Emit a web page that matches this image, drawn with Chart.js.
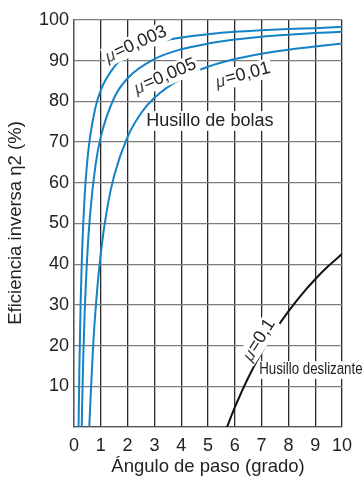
<!DOCTYPE html>
<html lang="es">
<head>
    <meta charset="UTF-8">
    <title>Eficiencia inversa</title>
    <script src="https://cdn.jsdelivr.net/npm/chart.js"></script>
    <style>
        body { margin: 0; background: #fff; }
        .wrap { width: 364px; height: 484px; position: relative; }
    </style>
</head>
<body>
    <div class="wrap">
        <canvas id="chart" width="364" height="484"></canvas>
    </div>
    <script>
        // angulo de paso (grado) y eficiencia (%)
        const ang003 = [0.17, 0.2, 0.25, 0.3, 0.4, 0.5, 0.6, 0.8, 1, 1.5, 2, 3, 4, 5, 6, 7, 8, 9, 10];
        const eff003 = [0, 14.1, 31.2, 42.7, 57.0, 65.6, 71.3, 78.5, 82.8, 88.5, 91.4, 94.3, 95.7, 96.5, 97.1, 97.5, 97.8, 98.0, 98.3];

        const ang005 = [0.29, 0.3, 0.35, 0.4, 0.5, 0.6, 0.8, 1, 1.5, 2, 3, 4, 5, 6, 7, 8, 9, 10];
        const eff005 = [0, 4.5, 18.2, 28.4, 42.7, 52.2, 64.2, 71.3, 80.9, 85.7, 90.4, 92.8, 94.2, 95.2, 95.9, 96.4, 96.8, 97.1];

        const ang01 = [0.57, 0.6, 0.7, 0.8, 1, 1.25, 1.5, 2, 2.5, 3, 4, 5, 6, 7, 8, 9, 10];
        const eff01 = [0, 4.5, 18.2, 28.4, 42.7, 54.2, 61.8, 71.3, 77.1, 80.9, 85.6, 88.5, 90.4, 91.7, 92.7, 93.5, 94.2];

        const ang1 = [5.71, 6, 6.5, 7, 7.5, 8, 8.5, 9, 9.5, 10];
        const eff1 = [0, 4.8, 12.1, 18.3, 23.7, 28.4, 32.6, 36.3, 39.6, 42.5];

        const xTicks = [0, 1, 2, 3, 4, 5, 6, 7, 8, 9, 10];
        const yTicks = [10, 20, 30, 40, 50, 60, 70, 80, 90, 100];

        const FONT = 'Liberation Sans, Arial, sans-serif';
        const BLUE = '#1482c6';
        const VGRID = '#2a2a2a';
        const HGRID = '#7c7c7c';
        const TEXT = '#222';

        function pts(xs, ys) {
            return xs.map((x, i) => ({ x: x, y: ys[i] }));
        }

        function line(xs, ys, color) {
            return {
                data: pts(xs, ys),
                borderColor: color,
                borderWidth: 2,
                pointRadius: 0,
                cubicInterpolationMode: 'monotone',
                fill: false
            };
        }

        // rotulos sobre las curvas (posicion en unidades de los ejes)
        const labels = [
            { mu: true, text: '=0,003', x: 2.31, y: 94.1, rot: -24 },
            { mu: true, text: '=0,005', x: 3.40, y: 86.2, rot: -23 },
            { mu: true, text: '=0,01', x: 6.3, y: 86.5, rot: -15 },
            { text: 'Husillo de bolas', x: 5.07, y: 75.2, rot: 0 },
            { mu: true, text: '=0,1', x: 6.9, y: 21.4, rot: -57 },
            { text: 'Husillo deslizante', x: 8.84, y: 14.0, rot: 0, size: 16, squeeze: 0.83 }
        ];

        const textPlugin = {
            id: 'texts',
            afterDraw(chart) {
                const ctx = chart.ctx;
                const xs = chart.scales.x, ys = chart.scales.y;
                const area = chart.chartArea;
                labels.forEach(l => {
                    const size = l.size || 18;
                    ctx.save();
                    ctx.translate(xs.getPixelForValue(l.x), ys.getPixelForValue(l.y));
                    ctx.rotate(l.rot * Math.PI / 180);
                    ctx.scale(l.squeeze || 1, 1);
                    ctx.font = size + 'px ' + FONT;
                    const muFont = 'italic 17px ' + FONT;
                    let w = ctx.measureText(l.text).width;
                    let muW = 0;
                    if (l.mu) {
                        ctx.font = muFont;
                        muW = ctx.measureText('μ').width + 1;
                        ctx.font = size + 'px ' + FONT;
                    }
                    const total = w + muW;
                    ctx.fillStyle = '#fff';
                    ctx.fillRect(-total / 2 - 2, -size * 0.55, total + 4, size * 1.1);
                    ctx.fillStyle = TEXT;
                    ctx.textAlign = 'left';
                    ctx.textBaseline = 'middle';
                    if (l.mu) {
                        ctx.font = muFont;
                        ctx.fillStyle = '#444';
                        ctx.fillText('μ', -total / 2, 1);
                        ctx.fillStyle = TEXT;
                        ctx.font = size + 'px ' + FONT;
                    }
                    ctx.fillText(l.text, -total / 2 + muW, 0);
                    ctx.restore();
                });

                // titulos de los ejes
                ctx.save();
                ctx.fillStyle = TEXT;
                ctx.font = '18.5px ' + FONT;
                ctx.textAlign = 'center';
                ctx.textBaseline = 'middle';
                ctx.fillText('Ángulo de paso (grado)', (area.left + area.right) / 2, 467);
                ctx.translate(16, 223);
                ctx.rotate(-Math.PI / 2);
                ctx.fillText('Eficiencia inversa η2 (%)', 0, 0);
                ctx.restore();
            }
        };

        new Chart(document.getElementById('chart'), {
            type: 'line',
            data: {
                datasets: [
                    line(ang003, eff003, BLUE),
                    line(ang005, eff005, BLUE),
                    line(ang01, eff01, BLUE),
                    line(ang1, eff1, '#111')
                ]
            },
            options: {
                responsive: false,
                animation: false,
                layout: { padding: { top: 20, right: 22, left: 0, bottom: 0 } },
                plugins: {
                    legend: { display: false },
                    tooltip: { enabled: false }
                },
                scales: {
                    x: {
                        type: 'linear',
                        min: 0,
                        max: 10,
                        afterBuildTicks: s => { s.ticks = xTicks.map(v => ({ value: v })); },
                        afterFit: s => { s.height = 57; },
                        grid: { color: VGRID, lineWidth: 1.3, drawTicks: false },
                        border: { color: '#555', width: 1.3 },
                        ticks: { color: TEXT, font: { family: FONT, size: 18 }, padding: 8 }
                    },
                    y: {
                        min: 0,
                        max: 100,
                        afterBuildTicks: s => { s.ticks = [0].concat(yTicks).map(v => ({ value: v })); },
                        afterFit: s => { s.width = 74; },
                        grid: { color: HGRID, lineWidth: 1.3, drawTicks: false },
                        border: { color: '#555', width: 1.3 },
                        ticks: {
                            color: TEXT,
                            font: { family: FONT, size: 18 },
                            padding: 5,
                            callback: v => (v === 0 ? '' : v)
                        }
                    }
                }
            },
            plugins: [textPlugin]
        });
    </script>
</body>
</html>
